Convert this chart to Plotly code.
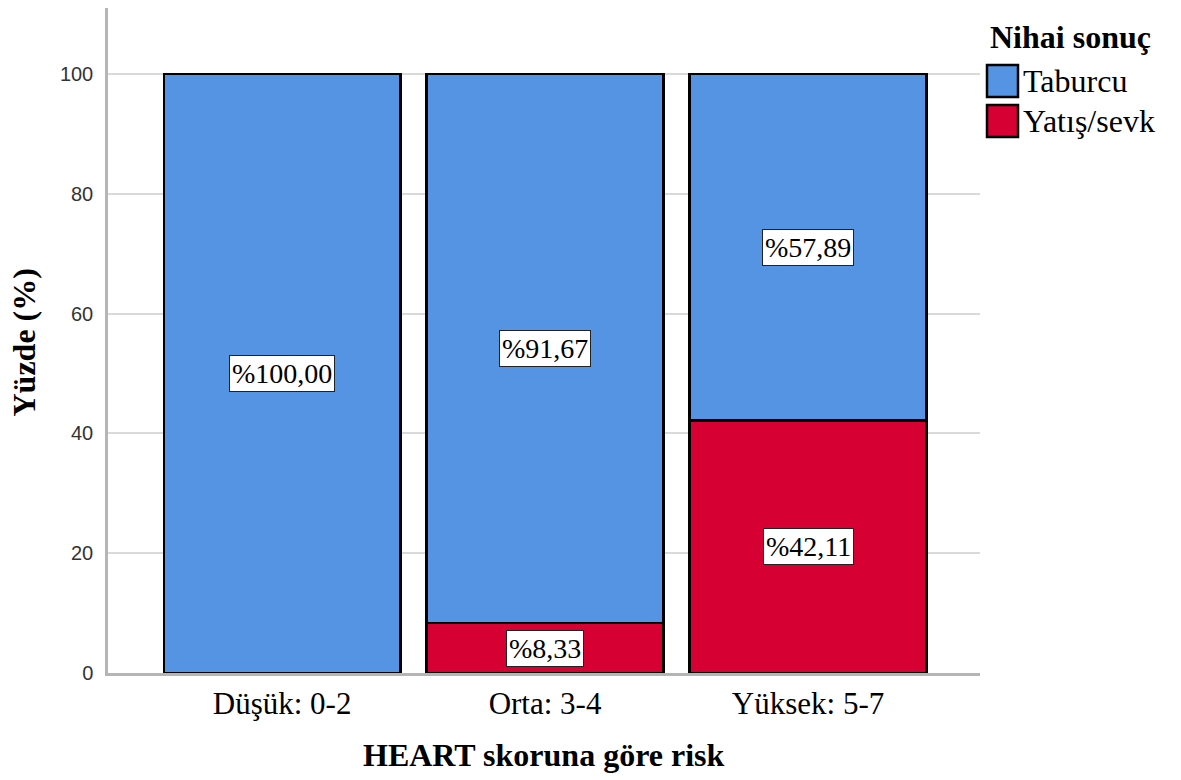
import plotly.graph_objects as go

categories = ["Düşük: 0-2", "Orta: 3-4", "Yüksek: 5-7"]
taburcu = [100.00, 91.67, 57.89]
yatis = [0.00, 8.33, 42.11]
series_names = ["Taburcu", "Yatış/sevk"]
colors = ["#5594E2", "#D60032"]
y_ticks = [0, 20, 40, 60, 80, 100]

W, H = 1181, 780
L, R, T, B = 108, 201, 8, 107
pw, ph = W - L - R, H - T - B

def px2paper(x, y):
    return (x - L) / pw, (H - B - y) / ph

serif = "Liberation Serif"
sans = "Liberation Sans"

fig = go.Figure()
fig.add_trace(go.Bar(x=categories, y=yatis, name=series_names[1], width=0.9,
                     marker=dict(color=colors[1], line=dict(color="black", width=2.5))))
fig.add_trace(go.Bar(x=categories, y=taburcu, name=series_names[0], width=0.9,
                     marker=dict(color=colors[0], line=dict(color="black", width=2.5))))

annotations = []
for i, c in enumerate(categories):
    for base, val in ((0, yatis[i]), (yatis[i], taburcu[i])):
        if val <= 0:
            continue
        annotations.append(dict(
            x=c, y=base + val / 2, xref="x", yref="y",
            text="%" + f"{val:.2f}".replace(".", ","),
            showarrow=False, bgcolor="white", bordercolor="#222", borderwidth=1,
            borderpad=2, font=dict(family=serif, size=28, color="black")))

# axis titles
annotations.append(dict(x=0.5, y=0, xref="paper", yref="paper", yanchor="middle",
                        yshift=-82, text="<b>HEART skoruna göre risk</b>", showarrow=False,
                        font=dict(family=serif, size=32, color="black")))
annotations.append(dict(x=0, y=0.5, xref="paper", yref="paper", xanchor="center",
                        xshift=-85, yshift=-2, textangle=-90, text="<b>Yüzde (%)</b>", showarrow=False,
                        font=dict(family=serif, size=32, color="black")))

# legend (custom)
lx, ly = px2paper(1070, 37)
annotations.append(dict(x=lx, y=ly, xref="paper", yref="paper", xanchor="center", yanchor="middle",
                        text="<b>Nihai sonuç</b>", showarrow=False,
                        font=dict(family=serif, size=32, color="black")))
shapes = []
for k, (name, col) in enumerate(zip(series_names, colors)):
    top = 65 + k * 40
    x0, y0 = px2paper(987, top + 32)
    x1, y1 = px2paper(1018, top)
    shapes.append(dict(type="rect", xref="paper", yref="paper", x0=x0, x1=x1, y0=y0, y1=y1,
                       fillcolor=col, line=dict(color="black", width=2.5)))
    tx, ty = px2paper(1021, top + 16)
    annotations.append(dict(x=tx, y=ty, xref="paper", yref="paper", xanchor="left", yanchor="middle",
                            text=name, showarrow=False,
                            font=dict(family=serif, size=32, color="black")))

fig.update_layout(
    width=W, height=H, barmode="stack", showlegend=False,
    margin=dict(l=L, r=R, t=T, b=B), paper_bgcolor="white", plot_bgcolor="white",
    annotations=annotations, shapes=shapes,
    xaxis=dict(range=[-0.662, 2.654], showline=True, linecolor="#b5b5b5", linewidth=2.5,
               showgrid=False, ticks="", ticklabelstandoff=1,
               tickfont=dict(family=serif, size=31, color="black")),
    yaxis=dict(range=[0, 111], tickvals=y_ticks, showline=True, linecolor="#b5b5b5", linewidth=2.5,
               showgrid=True, gridcolor="#d9d9d9", gridwidth=2, zeroline=False, ticks="",
               ticklabelstandoff=8, tickfont=dict(family=sans, size=20, color="#333")),
)
fig.write_html("out.html")
